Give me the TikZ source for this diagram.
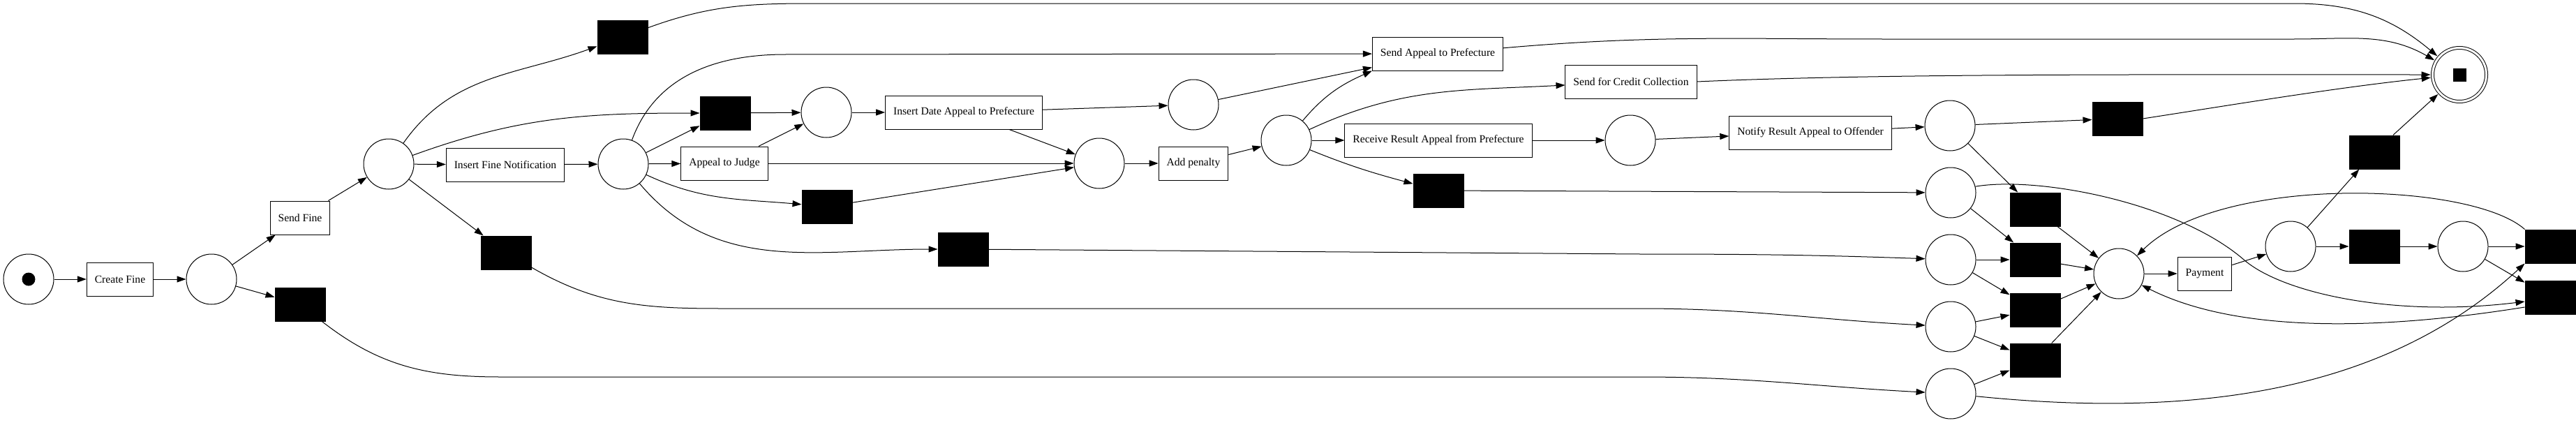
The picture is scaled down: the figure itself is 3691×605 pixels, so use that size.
\documentclass[tikz,border=0pt]{standalone}
\usepackage{fontspec}
\setmainfont{Liberation Serif}
\usetikzlibrary{arrows.meta}

\begin{document}
\begin{tikzpicture}[x=1pt, y=-1pt,
  place/.style={circle, draw, line width=1pt, minimum size=72pt, inner sep=0pt},
  trans/.style={rectangle, draw, line width=1pt, minimum height=48pt, inner xsep=11.5pt, inner ysep=0pt, font=\fontsize{15.6}{18}\selectfont},
  silent/.style={rectangle, draw, fill=black, line width=1pt, minimum width=72pt, minimum height=48pt, inner sep=0pt},
  flow/.style={-{Triangle[length=13pt, width=9pt]}, line width=1pt}]

  \useasboundingbox (0,0) rectangle (3691,605);

  % places
  \node[place] (src) at (41,400) {};
  \fill (src) circle[radius=9.5pt];
  \node[place] (p1) at (303,400) {};
  \node[place] (p2) at (557,235) {};
  \node[place] (p3) at (893,235) {};
  \node[place] (p4) at (1184,161) {};
  \node[place] (p5) at (1710,150) {};
  \node[place] (p6) at (1575,234) {};
  \node[place] (p7) at (1843,201) {};
  \node[place] (p8) at (2336,201) {};
  \node[place] (p9) at (2794,180) {};
  \node[place] (p10) at (2795,276) {};
  \node[place] (p11) at (2795,372) {};
  \node[place] (p12) at (2795,468) {};
  \node[place] (p13) at (2795,564) {};
  \node[place] (p14) at (3036,392) {};
  \node[place] (p15) at (3282,353) {};
  \node[place] (p16) at (3529,353) {};
  \node[place, double, double distance=3pt, minimum size=77pt, outer sep=3pt] (sink) at (3524,107) {};
  \fill[shift={(sink)}] (-9.5,-9.5) rectangle (9.5,9.5);

  % labelled transitions
  \node[trans] (createfine) at (172,400) {Create Fine};
  \node[trans] (sendfine) at (430,312) {Send Fine};
  \node[trans] (insertfine) at (724,236) {Insert Fine Notification};
  \node[trans] (appealjudge) at (1038,234) {Appeal to Judge};
  \node[trans] (insertdate) at (1381,161) {Insert Date Appeal to Prefecture};
  \node[trans] (addpenalty) at (1710,234) {Add penalty};
  \node[trans] (sendappeal) at (2060,77) {Send Appeal to Prefecture};
  \node[trans] (sendcredit) at (2337,117) {Send for Credit Collection};
  \node[trans] (receiveresult) at (2061,201) {Receive Result Appeal from Prefecture};
  \node[trans] (notify) at (2594,190) {Notify Result Appeal to Offender};
  \node[trans] (payment) at (3159,392) {Payment};

  % silent transitions
  \node[silent] (tau1) at (430,436) {};
  \node[silent] (tau2) at (725,362) {};
  \node[silent] (tau3) at (892,53) {};
  \node[silent] (tau4) at (1039,162) {};
  \node[silent] (tau5) at (1185,296) {};
  \node[silent] (tau6) at (1380,357) {};
  \node[silent] (tau7) at (2061,273) {};
  \node[silent] (tau8) at (3034,170) {};
  \node[silent] (tau9) at (2916,300) {};
  \node[silent] (tau10) at (2916,372) {};
  \node[silent] (tau11) at (2916,444) {};
  \node[silent] (tau12) at (2916,516) {};
  \node[silent] (tau13) at (3402,218) {};
  \node[silent] (tau14) at (3402,353) {};
  \node[silent] (tau15) at (3654,353) {};
  \node[silent] (tau16) at (3654,426) {};

  % fine creation and sending
  \draw[flow] (src) -- (createfine);
  \draw[flow] (createfine) -- (p1);
  \draw[flow] (p1) -- (sendfine);
  \draw[flow] (p1) -- (tau1);
  \draw[flow] (sendfine) -- (p2);
  \draw[flow] (p2) -- (insertfine);
  \draw[flow] (p2) -- (tau2);
  \draw[flow] (p2) to[out=55,in=200] (tau3);
  \draw[flow] (p2) to[out=20,in=180] (tau4);
  \draw[flow] (insertfine) -- (p3);

  % appeals
  \draw[flow] (p3) to[out=70,in=180] (1125,78) -- (sendappeal);
  \draw[flow] (p3) -- (tau4);
  \draw[flow] (p3) -- (appealjudge);
  \draw[flow] (p3) to[out=-25,in=175] (tau5);
  \draw[flow] (p3) to[out=-50,in=180] (tau6);
  \draw[flow] (tau4) -- (p4);
  \draw[flow] (appealjudge) -- (p4);
  \draw[flow] (appealjudge) -- (p6);
  \draw[flow] (tau5) -- (p6);
  \draw[flow] (p4) -- (insertdate);
  \draw[flow] (insertdate) -- (p5);
  \draw[flow] (insertdate) -- (p6);
  \draw[flow] (p5) -- (sendappeal);
  \draw[flow] (p6) -- (addpenalty);
  \draw[flow] (addpenalty) -- (p7);

  % after penalty
  \draw[flow] (p7) to[out=50,in=204] (sendappeal.south west);
  \draw[flow] (p7) to[out=25,in=183] (sendcredit);
  \draw[flow] (p7) -- (receiveresult);
  \draw[flow] (p7) to[out=-22,in=165] (tau7);
  \draw[flow] (receiveresult) -- (p8);
  \draw[flow] (p8) -- (notify);
  \draw[flow] (notify) -- (p9);
  \draw[flow] (p9) -- (tau8);
  \draw[flow] (p9) -- (tau9);

  % long arcs to the payment places
  \draw[flow] (tau7) -- (p10);
  \draw[flow] (tau6) -- (2350,364) to[out=0,in=178] (p11);
  \draw[flow] (tau2) to[out=-30,in=180] (1035,442) -- (2350,442) to[out=0,in=177] (p12);
  \draw[flow] (tau1) to[out=-38,in=180] (717,540) -- (2350,540) to[out=0,in=177] (p13);

  % payment
  \draw[flow] (p10) -- (tau10);
  \draw[flow] (p11) -- (tau10);
  \draw[flow] (p11) -- (tau11);
  \draw[flow] (p12) -- (tau11);
  \draw[flow] (p12) -- (tau12);
  \draw[flow] (p13) -- (tau12);
  \draw[flow] (tau9) -- (p14);
  \draw[flow] (tau10) -- (p14);
  \draw[flow] (tau11) -- (p14);
  \draw[flow] (tau12) -- (p14);
  \draw[flow] (p14) -- (payment);
  \draw[flow] (payment) -- (p15);
  \draw[flow] (p15) -- (tau13);
  \draw[flow] (p15) -- (tau14);
  \draw[flow] (tau14) -- (p16);
  \draw[flow] (p16) -- (tau15);
  \draw[flow] (p16) -- (tau16);
  \draw[flow] (p10.14) .. controls (2920,252) and (3120,290) .. (3215,372)
    .. controls (3270,420) and (3430,455) .. ([yshift=-6pt]tau16.west);
  \draw[flow] ([yshift=-14pt]tau16.west) .. controls (3480,462) and (3230,490) .. (p14);
  \draw[flow] (tau15.north west) .. controls (3540,260) and (3180,250) .. (p14);
  \draw[flow] (p13) .. controls (3150,600) and (3420,560) .. (tau15.south west);

  % into the sink
  \draw[flow] (tau3) to[out=20,in=180] (1163,5) -- (3287,5) to[out=0,in=140] (sink);
  \draw[flow] (sendappeal) to[out=5,in=180] (2700,56) -- (3287,56) to[out=0,in=150] (sink);
  \draw[flow] (sendcredit.east) .. controls (2700,105) and (3100,107) .. (sink);
  \draw[flow] (tau8.east) .. controls (3200,150) and (3350,125) .. (sink);
  \draw[flow] (tau13) -- (sink);
\end{tikzpicture}
\end{document}
